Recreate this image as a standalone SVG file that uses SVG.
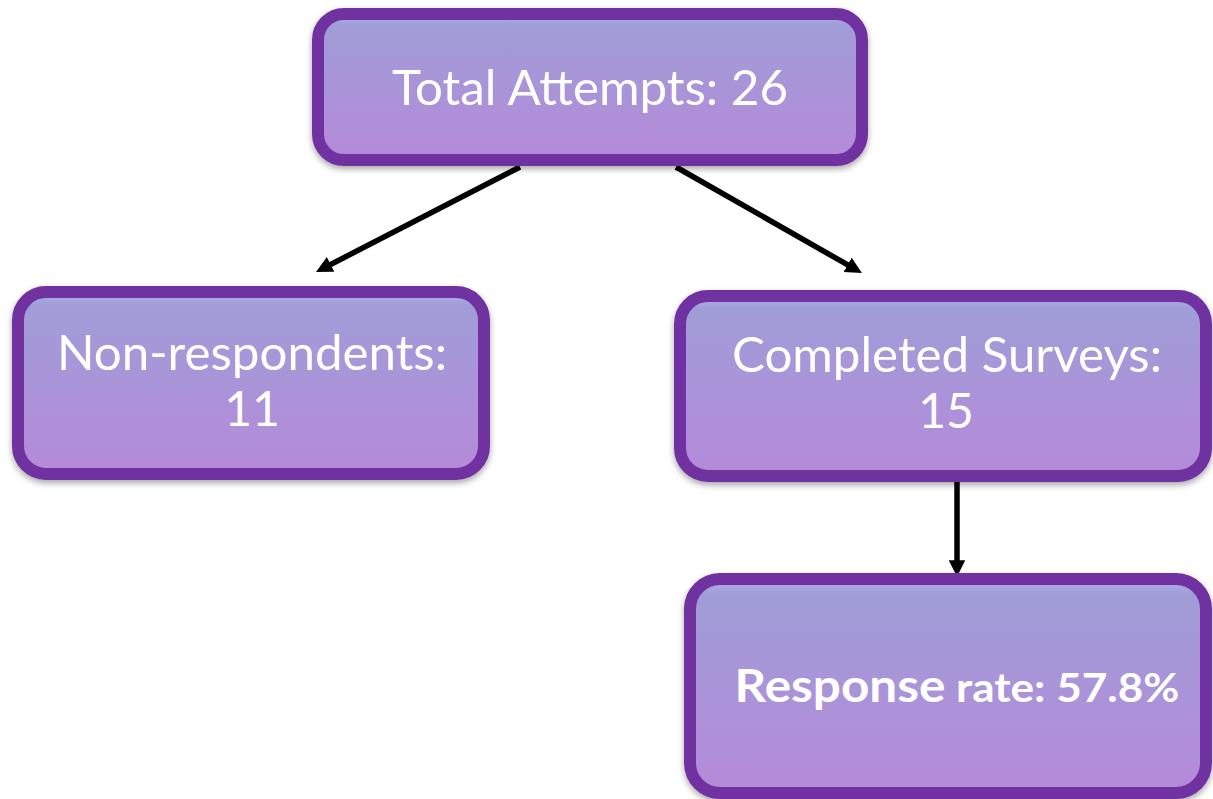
<svg xmlns="http://www.w3.org/2000/svg" width="1213" height="799" viewBox="0 0 1213 799">
<style>
.box{fill:url(#g);stroke:#7030a0;stroke-width:12;filter:url(#sh)}
.t{font-family:Lato,"Open Sans","Liberation Sans",sans-serif;fill:#ffffff;font-size:48px;text-anchor:middle}
.b{font-weight:bold}
.c{stroke:#000;stroke-width:5.5;fill:none;marker-end:url(#ah)}
</style>
<defs>
<linearGradient id="g" x1="0" y1="0" x2="0" y2="1">
<stop offset="0" stop-color="#b0b2f0"/>
<stop offset="0.07" stop-color="#a09dd8"/>
<stop offset="1" stop-color="#b58ad9"/>
</linearGradient>
<filter id="sh" x="-10%" y="-10%" width="120%" height="130%">
<feDropShadow dx="0" dy="3" stdDeviation="3" flood-color="#000" flood-opacity="0.35"/>
</filter>
<marker id="ah" markerWidth="4" markerHeight="4" refX="0.5" refY="1.5" orient="auto" markerUnits="strokeWidth">
<path d="M0,0 L3,1.5 L0,3 Z" fill="#000"/>
</marker>
</defs>
<g id="connectors">
<line class="c" x1="520" y1="167" x2="328.2" y2="265.7"/>
<line class="c" x1="676" y1="167" x2="850" y2="266.2"/>
<line class="c" x1="957" y1="482" x2="957" y2="563"/>
</g>
<g id="node-total">
<rect class="box" x="318" y="14" width="544" height="146" rx="26"/>
<text class="t" x="590" y="105" textLength="396" lengthAdjust="spacingAndGlyphs">Total Attempts: 26</text>
</g>
<g id="node-nonrespondents">
<rect class="box" x="18" y="292" width="466" height="182" rx="28"/>
<text class="t" x="252" y="370" textLength="390" lengthAdjust="spacingAndGlyphs">Non-respondents:</text>
<text class="t" x="252" y="426">11</text>
</g>
<g id="node-completed">
<rect class="box" x="680" y="296" width="526" height="180" rx="28"/>
<text class="t" x="947" y="372" textLength="430" lengthAdjust="spacingAndGlyphs">Completed Surveys:</text>
<text class="t" x="946" y="428">15</text>
</g>
<g id="node-rate">
<rect class="box" x="690" y="579" width="516" height="214" rx="30"/>
<text class="t b" x="957" y="702" textLength="445" lengthAdjust="spacingAndGlyphs"><tspan font-size="46">Response</tspan><tspan font-size="41"> rate: 57.8%</tspan></text>
</g>
</svg>
